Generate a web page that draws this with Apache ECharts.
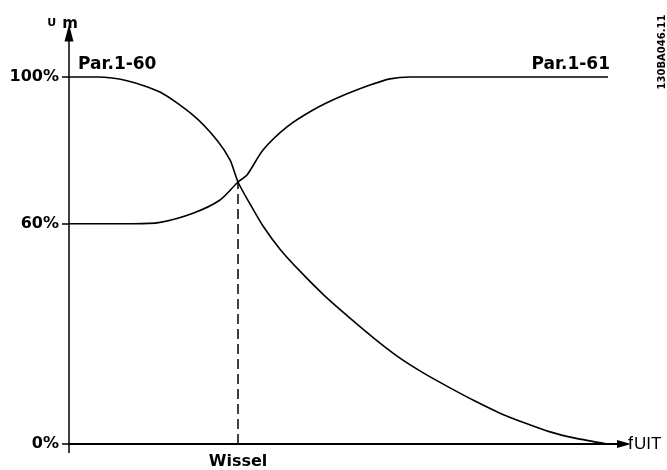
<!DOCTYPE html>
<html>
<head>
<meta charset="utf-8">
<script src="https://cdn.jsdelivr.net/npm/echarts@6/dist/echarts.min.js"></script>
<style>html,body{margin:0;padding:0;background:#fff}#c{width:667px;height:470px}</style>
</head>
<body>
<div id="c"></div>
<script>
// Curve for Par.1-60 (falling)
const par160X = [0, 5.6, 11.6, 18.2, 24.8, 29.6, 32.2, 33.8, 36.2, 38.8, 42.2, 46.2, 51.2, 56.2, 61.2, 66.2, 71.2, 76.2, 81.2, 86.2, 91.2, 96.2, 101.2, 107.6];
const par160Y = [100, 100, 99.0, 95.9, 89.6, 82.8, 77.4, 71.4, 65.4, 59.4, 53.1, 47.1, 40.3, 34.3, 28.6, 23.4, 19.1, 15.3, 11.7, 8.4, 5.7, 3.3, 1.6, 0];
// Curve for Par.1-61 (rising)
const par161X = [0, 12.8, 18.2, 24.8, 30.2, 33.8, 35.6, 38.8, 43.6, 48.8, 54.2, 60.2, 64.2, 68.2, 107.8];
const par161Y = [60, 60, 60.4, 62.9, 66.5, 71.4, 73.3, 80.1, 86.4, 91, 94.6, 97.8, 99.5, 100, 100];
// Switch point (Wissel)
const wisselX = 33.8;
const wisselY = 71.4;
const yTicks = [0, 60, 100];
const seriesNames = ['Par.1-60', 'Par.1-61'];

const pairs = (xs, ys) => xs.map((x, i) => [x, ys[i]]);
const font = 'DejaVu Sans';
const chart = echarts.init(document.getElementById('c'));
chart.setOption({
  animation: false,
  grid: { left: 69, right: 43, top: 33, bottom: 26 },
  xAxis: {
    type: 'value', min: 0, max: 111,
    splitLine: { show: false },
    axisLine: { show: true, symbol: ['none', 'triangle'], symbolSize: [8, 14], lineStyle: { color: '#000', width: 2 } },
    axisTick: { show: true, customValues: [0], length: 9, inside: false, lineStyle: { color: '#000', width: 1.5 } },
    axisLabel: { customValues: [wisselX], formatter: () => 'Wissel', margin: 10, color: '#000', fontFamily: font, fontWeight: 'bold', fontSize: 16 },
    name: '{f|f}{s|UIT}', nameLocation: 'end', nameGap: 4,
    nameTextStyle: { rich: {
      f: { fontFamily: 'Liberation Sans', fontSize: 18, color: '#000', verticalAlign: 'bottom' },
      s: { fontFamily: 'Liberation Sans', fontSize: 17, color: '#000', verticalAlign: 'bottom', padding: [0, 0, 0, 1] }
    } }
  },
  yAxis: {
    type: 'value', min: 0, max: 112,
    splitLine: { show: false },
    axisLine: { show: true, symbol: ['none', 'triangle'], symbolSize: [9, 17], lineStyle: { color: '#000', width: 1.5 } },
    axisTick: { show: true, customValues: yTicks, length: 7, lineStyle: { color: '#000', width: 1.5 } },
    axisLabel: { customValues: yTicks, formatter: v => v + '%', margin: 10, color: '#000', fontFamily: font, fontWeight: 'bold', fontSize: 16 },
    name: '{u|U}{m|m}', nameLocation: 'end', nameGap: 1,
    nameTextStyle: { padding: [0, 13, 0, 0], rich: {
      u: { fontFamily: font, fontWeight: 'bold', fontSize: 11, color: '#000', verticalAlign: 'bottom', padding: [0, 6, 3, 0] },
      m: { fontFamily: font, fontWeight: 'bold', fontSize: 15, color: '#000', verticalAlign: 'bottom' }
    } }
  },
  graphic: [{
    type: 'text', x: 662, y: 52, rotation: Math.PI / 2,
    style: { text: '130BA046.11', fontFamily: font, fontWeight: 'bold', fontSize: 10, fill: '#000', align: 'center', verticalAlign: 'middle' }
  }],
  series: [
    {
      name: seriesNames[0], type: 'line', data: pairs(par160X, par160Y),
      symbol: 'none', smooth: 0.25,
      lineStyle: { color: '#000', width: 1.6 },
      markPoint: {
        symbol: 'circle', symbolSize: 0, silent: true,
        data: [{ coord: [par160X[0], par160Y[0]] }],
        label: { show: true, formatter: seriesNames[0], position: 'top', distance: 4, align: 'left', offset: [9, 0], color: '#000', fontFamily: font, fontWeight: 'bold', fontSize: 17 }
      }
    },
    {
      name: seriesNames[1], type: 'line', data: pairs(par161X, par161Y),
      symbol: 'none', smooth: 0.25,
      lineStyle: { color: '#000', width: 1.6 },
      markPoint: {
        symbol: 'circle', symbolSize: 0, silent: true,
        data: [{ coord: [par161X[par161X.length - 1], par161Y[par161Y.length - 1]] }],
        label: { show: true, formatter: seriesNames[1], position: 'top', distance: 4, align: 'right', offset: [2, 0], color: '#000', fontFamily: font, fontWeight: 'bold', fontSize: 17 }
      }
    },
    {
      name: 'Wissel', type: 'line', data: [[wisselX, 0], [wisselX, wisselY]],
      symbol: 'none', lineStyle: { color: '#000', width: 1.5, type: [10, 5] }
    }
  ]
});
</script>
</body>
</html>
